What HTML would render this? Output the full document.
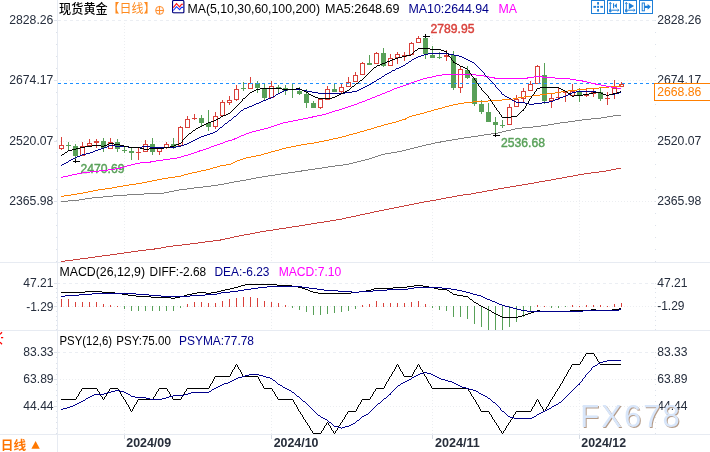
<!DOCTYPE html>
<html lang="zh"><head><meta charset="utf-8"><title>现货黄金 日线</title>
<style>html,body{margin:0;padding:0;background:#fff;overflow:hidden}#chart{position:relative;width:710px;height:452px;overflow:hidden}svg{display:block}.wm{position:absolute;left:580.3px;top:396.8px;margin:0;font:31px/40px "Liberation Sans",Arial,sans-serif;letter-spacing:2px;color:#d8e6fa;text-shadow:1px 1px 0.3px rgba(176,150,130,.95);white-space:nowrap;pointer-events:none}</style></head>
<body>
<div id="chart">
<svg width="710" height="452" viewBox="0 0 710 452" font-family="'Liberation Sans','Noto Sans CJK SC',sans-serif" font-size="12">
<rect width="710" height="452" fill="#fff"/>
<g shape-rendering="crispEdges" fill="none">
<path d="M58 20.5H655" stroke="#ebeef3" stroke-dasharray="3 3"/>
<path d="M57 80.5H655" stroke="#eceef1" stroke-dasharray="1 2"/>
<path d="M57 141.5H655" stroke="#eceef1" stroke-dasharray="1 2"/>
<path d="M57 201.5H655" stroke="#eceef1" stroke-dasharray="1 2"/>
<path d="M57 283.5H655" stroke="#ebeef3" stroke-dasharray="3 3"/>
<path d="M57 306.5H655" stroke="#eceef1" stroke-dasharray="1 2"/>
<path d="M57 352.5H655" stroke="#ebeef3" stroke-dasharray="3 3"/>
<path d="M57 379.5H655" stroke="#eceef1" stroke-dasharray="1 2"/>
<path d="M57 406.5H655" stroke="#eceef1" stroke-dasharray="1 2"/>
<path d="M124.5 20V262M124.5 283V330M124.5 352V434" stroke="#eceef1" stroke-dasharray="1 2"/>
<path d="M124.5 434V439" stroke="#d5dbe3"/>
<path d="M271.5 20V262M271.5 283V330M271.5 352V434" stroke="#eceef1" stroke-dasharray="1 2"/>
<path d="M271.5 434V439" stroke="#d5dbe3"/>
<path d="M432.5 20V262M432.5 283V330M432.5 352V434" stroke="#eceef1" stroke-dasharray="1 2"/>
<path d="M432.5 434V439" stroke="#d5dbe3"/>
<path d="M579.5 20V262M579.5 283V330M579.5 352V434" stroke="#eceef1" stroke-dasharray="1 2"/>
<path d="M579.5 434V439" stroke="#d5dbe3"/>
<path d="M0 262.5H710" stroke="#e7ebf2"/>
<path d="M0 330.5H710" stroke="#e7ebf2"/>
<path d="M0 434.5H710" stroke="#e7ebf2"/>
<path d="M57.5 0V452" stroke="#e7ebf2"/>
<path d="M56 20.5h1M655 20.5h1M56 32.5h1M655 32.5h1M56 44.5h1M655 44.5h1M56 56.5h1M655 56.5h1M56 68.5h1M655 68.5h1M56 80.5h1M655 80.5h1M56 92.5h1M655 92.5h1M56 104.5h1M655 104.5h1M56 116.5h1M655 116.5h1M56 128.5h1M655 128.5h1M56 140.5h1M655 140.5h1M56 152.5h1M655 152.5h1M56 164.5h1M655 164.5h1M56 177.5h1M655 177.5h1M56 189.5h1M655 189.5h1M56 201.5h1M655 201.5h1M56 213.5h1M655 213.5h1M56 225.5h1M655 225.5h1M56 237.5h1M655 237.5h1M56 249.5h1M655 249.5h1M56 261.5h1M655 261.5h1M56 283.5h1M655 283.5h1M56 288.5h1M655 288.5h1M56 292.5h1M655 292.5h1M56 297.5h1M655 297.5h1M56 302.5h1M655 302.5h1M56 306.5h1M655 306.5h1M56 311.5h1M655 311.5h1M56 316.5h1M655 316.5h1M56 320.5h1M655 320.5h1M56 325.5h1M655 325.5h1M56 329.5h1M655 329.5h1M56 352.5h1M655 352.5h1M56 357.5h1M655 357.5h1M56 363.5h1M655 363.5h1M56 368.5h1M655 368.5h1M56 374.5h1M655 374.5h1M56 379.5h1M655 379.5h1M56 384.5h1M655 384.5h1M56 390.5h1M655 390.5h1M56 395.5h1M655 395.5h1M56 401.5h1M655 401.5h1M56 406.5h1M655 406.5h1M56 411.5h1M655 411.5h1M56 417.5h1M655 417.5h1M56 422.5h1M655 422.5h1M56 428.5h1M655 428.5h1M56 433.5h1M655 433.5h1" stroke="#dde2ea"/>
<path d="M54 20.5h3M54 80.5h3M54 141.5h3M54 201.5h3M54 283.5h3M54 306.5h3M54 352.5h3M54 379.5h3M54 406.5h3" stroke="#dfe4ec"/>
</g>
<g shape-rendering="crispEdges">
<rect x="61" y="137" width="1" height="13" fill="#d9403a"/>
<rect x="59" y="145" width="5" height="4" fill="#d9403a"/><rect x="60" y="146" width="3" height="2" fill="#fff"/>
<rect x="68" y="142" width="1" height="9" fill="#58a058"/>
<rect x="66" y="145" width="5" height="1" fill="#58a058"/>
<rect x="75" y="144" width="1" height="19" fill="#58a058"/>
<rect x="73" y="146" width="5" height="10" fill="#58a058"/>
<rect x="82" y="142" width="1" height="14" fill="#d9403a"/>
<rect x="80" y="146" width="5" height="10" fill="#d9403a"/><rect x="81" y="147" width="3" height="8" fill="#fff"/>
<rect x="89" y="139" width="1" height="7" fill="#d9403a"/>
<rect x="87" y="143" width="5" height="3" fill="#d9403a"/><rect x="88" y="144" width="3" height="1" fill="#fff"/>
<rect x="96" y="139" width="1" height="9" fill="#d9403a"/>
<rect x="94" y="141" width="5" height="2" fill="#d9403a"/>
<rect x="103" y="138" width="1" height="14" fill="#58a058"/>
<rect x="101" y="141" width="5" height="7" fill="#58a058"/>
<rect x="110" y="138" width="1" height="11" fill="#d9403a"/>
<rect x="108" y="142" width="5" height="7" fill="#d9403a"/><rect x="109" y="143" width="3" height="5" fill="#fff"/>
<rect x="117" y="139" width="1" height="13" fill="#58a058"/>
<rect x="115" y="142" width="5" height="7" fill="#58a058"/>
<rect x="124" y="146" width="1" height="7" fill="#58a058"/>
<rect x="122" y="150" width="5" height="1" fill="#58a058"/>
<rect x="131" y="148" width="1" height="12" fill="#58a058"/>
<rect x="129" y="151" width="5" height="2" fill="#58a058"/>
<rect x="138" y="148" width="1" height="12" fill="#d9403a"/>
<rect x="136" y="152" width="5" height="1" fill="#d9403a"/>
<rect x="145" y="140" width="1" height="12" fill="#d9403a"/>
<rect x="143" y="144" width="5" height="8" fill="#d9403a"/><rect x="144" y="145" width="3" height="6" fill="#fff"/>
<rect x="152" y="138" width="1" height="17" fill="#58a058"/>
<rect x="150" y="144" width="5" height="8" fill="#58a058"/>
<rect x="159" y="148" width="1" height="7" fill="#d9403a"/>
<rect x="157" y="148" width="5" height="4" fill="#d9403a"/><rect x="158" y="149" width="3" height="2" fill="#fff"/>
<rect x="166" y="142" width="1" height="7" fill="#d9403a"/>
<rect x="164" y="144" width="5" height="4" fill="#d9403a"/><rect x="165" y="145" width="3" height="2" fill="#fff"/>
<rect x="173" y="138" width="1" height="11" fill="#58a058"/>
<rect x="171" y="144" width="5" height="4" fill="#58a058"/>
<rect x="180" y="126" width="1" height="20" fill="#d9403a"/>
<rect x="178" y="127" width="5" height="19" fill="#d9403a"/><rect x="179" y="128" width="3" height="17" fill="#fff"/>
<rect x="187" y="116" width="1" height="12" fill="#d9403a"/>
<rect x="185" y="119" width="5" height="9" fill="#d9403a"/><rect x="186" y="120" width="3" height="7" fill="#fff"/>
<rect x="194" y="114" width="1" height="6" fill="#d9403a"/>
<rect x="192" y="118" width="5" height="1" fill="#d9403a"/>
<rect x="201" y="115" width="1" height="12" fill="#58a058"/>
<rect x="199" y="118" width="5" height="5" fill="#58a058"/>
<rect x="208" y="110" width="1" height="21" fill="#58a058"/>
<rect x="206" y="123" width="5" height="4" fill="#58a058"/>
<rect x="215" y="112" width="1" height="17" fill="#d9403a"/>
<rect x="213" y="116" width="5" height="11" fill="#d9403a"/><rect x="214" y="117" width="3" height="9" fill="#fff"/>
<rect x="222" y="100" width="1" height="16" fill="#d9403a"/>
<rect x="220" y="102" width="5" height="14" fill="#d9403a"/><rect x="221" y="103" width="3" height="12" fill="#fff"/>
<rect x="229" y="96" width="1" height="9" fill="#d9403a"/>
<rect x="227" y="100" width="5" height="3" fill="#d9403a"/><rect x="228" y="101" width="3" height="1" fill="#fff"/>
<rect x="236" y="85" width="1" height="16" fill="#d9403a"/>
<rect x="234" y="89" width="5" height="11" fill="#d9403a"/><rect x="235" y="90" width="3" height="9" fill="#fff"/>
<rect x="243" y="82" width="1" height="9" fill="#58a058"/>
<rect x="241" y="88" width="5" height="1" fill="#58a058"/>
<rect x="250" y="77" width="1" height="12" fill="#d9403a"/>
<rect x="248" y="83" width="5" height="6" fill="#d9403a"/><rect x="249" y="84" width="3" height="4" fill="#fff"/>
<rect x="257" y="81" width="1" height="12" fill="#58a058"/>
<rect x="255" y="83" width="5" height="5" fill="#58a058"/>
<rect x="264" y="83" width="1" height="17" fill="#58a058"/>
<rect x="262" y="88" width="5" height="10" fill="#58a058"/>
<rect x="271" y="81" width="1" height="17" fill="#d9403a"/>
<rect x="269" y="86" width="5" height="12" fill="#d9403a"/><rect x="270" y="87" width="3" height="10" fill="#fff"/>
<rect x="278" y="85" width="1" height="8" fill="#58a058"/>
<rect x="276" y="87" width="5" height="2" fill="#58a058"/>
<rect x="285" y="85" width="1" height="10" fill="#58a058"/>
<rect x="283" y="88" width="5" height="3" fill="#58a058"/>
<rect x="292" y="83" width="1" height="15" fill="#58a058"/>
<rect x="290" y="89" width="5" height="1" fill="#58a058"/>
<rect x="299" y="87" width="1" height="8" fill="#58a058"/>
<rect x="297" y="91" width="5" height="3" fill="#58a058"/>
<rect x="306" y="89" width="1" height="19" fill="#58a058"/>
<rect x="304" y="94" width="5" height="9" fill="#58a058"/>
<rect x="313" y="101" width="1" height="7" fill="#58a058"/>
<rect x="311" y="103" width="5" height="5" fill="#58a058"/>
<rect x="320" y="98" width="1" height="11" fill="#d9403a"/>
<rect x="318" y="99" width="5" height="9" fill="#d9403a"/><rect x="319" y="100" width="3" height="7" fill="#fff"/>
<rect x="327" y="86" width="1" height="14" fill="#d9403a"/>
<rect x="325" y="89" width="5" height="11" fill="#d9403a"/><rect x="326" y="90" width="3" height="9" fill="#fff"/>
<rect x="334" y="83" width="1" height="9" fill="#58a058"/>
<rect x="332" y="89" width="5" height="3" fill="#58a058"/>
<rect x="341" y="84" width="1" height="9" fill="#d9403a"/>
<rect x="339" y="87" width="5" height="5" fill="#d9403a"/><rect x="340" y="88" width="3" height="3" fill="#fff"/>
<rect x="348" y="77" width="1" height="10" fill="#d9403a"/>
<rect x="346" y="82" width="5" height="5" fill="#d9403a"/><rect x="347" y="83" width="3" height="3" fill="#fff"/>
<rect x="355" y="72" width="1" height="10" fill="#d9403a"/>
<rect x="353" y="75" width="5" height="7" fill="#d9403a"/><rect x="354" y="76" width="3" height="5" fill="#fff"/>
<rect x="362" y="62" width="1" height="13" fill="#d9403a"/>
<rect x="360" y="63" width="5" height="12" fill="#d9403a"/><rect x="361" y="64" width="3" height="10" fill="#fff"/>
<rect x="369" y="55" width="1" height="10" fill="#58a058"/>
<rect x="367" y="63" width="5" height="2" fill="#58a058"/>
<rect x="376" y="52" width="1" height="12" fill="#d9403a"/>
<rect x="374" y="53" width="5" height="11" fill="#d9403a"/><rect x="375" y="54" width="3" height="9" fill="#fff"/>
<rect x="383" y="48" width="1" height="19" fill="#58a058"/>
<rect x="381" y="53" width="5" height="13" fill="#58a058"/>
<rect x="390" y="54" width="1" height="12" fill="#d9403a"/>
<rect x="388" y="58" width="5" height="8" fill="#d9403a"/><rect x="389" y="59" width="3" height="6" fill="#fff"/>
<rect x="397" y="52" width="1" height="12" fill="#d9403a"/>
<rect x="395" y="54" width="5" height="4" fill="#d9403a"/><rect x="396" y="55" width="3" height="2" fill="#fff"/>
<rect x="404" y="52" width="1" height="9" fill="#d9403a"/>
<rect x="402" y="55" width="5" height="2" fill="#d9403a"/>
<rect x="411" y="42" width="1" height="13" fill="#d9403a"/>
<rect x="409" y="43" width="5" height="12" fill="#d9403a"/><rect x="410" y="44" width="3" height="10" fill="#fff"/>
<rect x="418" y="36" width="1" height="7" fill="#d9403a"/>
<rect x="416" y="38" width="5" height="5" fill="#d9403a"/><rect x="417" y="39" width="3" height="3" fill="#fff"/>
<rect x="425" y="34" width="1" height="25" fill="#58a058"/>
<rect x="423" y="38" width="5" height="16" fill="#58a058"/>
<rect x="432" y="46" width="1" height="12" fill="#58a058"/>
<rect x="430" y="55" width="5" height="3" fill="#58a058"/>
<rect x="439" y="52" width="1" height="7" fill="#58a058"/>
<rect x="437" y="57" width="5" height="1" fill="#58a058"/>
<rect x="446" y="50" width="1" height="11" fill="#d9403a"/>
<rect x="444" y="55" width="5" height="2" fill="#d9403a"/>
<rect x="453" y="51" width="1" height="39" fill="#58a058"/>
<rect x="451" y="55" width="5" height="33" fill="#58a058"/>
<rect x="460" y="66" width="1" height="27" fill="#d9403a"/>
<rect x="458" y="69" width="5" height="19" fill="#d9403a"/><rect x="459" y="70" width="3" height="17" fill="#fff"/>
<rect x="467" y="66" width="1" height="13" fill="#58a058"/>
<rect x="465" y="70" width="5" height="8" fill="#58a058"/>
<rect x="474" y="78" width="1" height="28" fill="#58a058"/>
<rect x="472" y="78" width="5" height="26" fill="#58a058"/>
<rect x="481" y="100" width="1" height="14" fill="#58a058"/>
<rect x="479" y="104" width="5" height="8" fill="#58a058"/>
<rect x="488" y="103" width="1" height="19" fill="#58a058"/>
<rect x="486" y="112" width="5" height="10" fill="#58a058"/>
<rect x="495" y="117" width="1" height="19" fill="#58a058"/>
<rect x="493" y="122" width="5" height="3" fill="#58a058"/>
<rect x="502" y="120" width="1" height="8" fill="#58a058"/>
<rect x="500" y="125" width="5" height="1" fill="#58a058"/>
<rect x="509" y="104" width="1" height="21" fill="#d9403a"/>
<rect x="507" y="107" width="5" height="18" fill="#d9403a"/><rect x="508" y="108" width="3" height="16" fill="#fff"/>
<rect x="516" y="95" width="1" height="12" fill="#d9403a"/>
<rect x="514" y="99" width="5" height="8" fill="#d9403a"/><rect x="515" y="100" width="3" height="6" fill="#fff"/>
<rect x="523" y="88" width="1" height="14" fill="#d9403a"/>
<rect x="521" y="91" width="5" height="8" fill="#d9403a"/><rect x="522" y="92" width="3" height="6" fill="#fff"/>
<rect x="530" y="81" width="1" height="10" fill="#d9403a"/>
<rect x="528" y="84" width="5" height="7" fill="#d9403a"/><rect x="529" y="85" width="3" height="5" fill="#fff"/>
<rect x="537" y="65" width="1" height="19" fill="#d9403a"/>
<rect x="535" y="66" width="5" height="18" fill="#d9403a"/><rect x="536" y="67" width="3" height="16" fill="#fff"/>
<rect x="544" y="63" width="1" height="41" fill="#58a058"/>
<rect x="542" y="75" width="5" height="26" fill="#58a058"/>
<rect x="551" y="94" width="1" height="14" fill="#d9403a"/>
<rect x="549" y="98" width="5" height="3" fill="#d9403a"/><rect x="550" y="99" width="3" height="1" fill="#fff"/>
<rect x="558" y="87" width="1" height="13" fill="#d9403a"/>
<rect x="556" y="97" width="5" height="1" fill="#d9403a"/>
<rect x="565" y="91" width="1" height="11" fill="#d9403a"/>
<rect x="563" y="92" width="5" height="1" fill="#d9403a"/>
<rect x="572" y="84" width="1" height="12" fill="#d9403a"/>
<rect x="570" y="91" width="5" height="5" fill="#d9403a"/><rect x="571" y="92" width="3" height="3" fill="#fff"/>
<rect x="579" y="88" width="1" height="14" fill="#58a058"/>
<rect x="577" y="91" width="5" height="5" fill="#58a058"/>
<rect x="586" y="88" width="1" height="9" fill="#d9403a"/>
<rect x="584" y="94" width="5" height="2" fill="#d9403a"/>
<rect x="593" y="88" width="1" height="9" fill="#d9403a"/>
<rect x="591" y="92" width="5" height="2" fill="#d9403a"/>
<rect x="600" y="88" width="1" height="13" fill="#58a058"/>
<rect x="598" y="92" width="5" height="7" fill="#58a058"/>
<rect x="607" y="92" width="1" height="13" fill="#d9403a"/>
<rect x="605" y="98" width="5" height="1" fill="#d9403a"/>
<rect x="614" y="80" width="1" height="19" fill="#d9403a"/>
<rect x="612" y="88" width="5" height="6" fill="#d9403a"/><rect x="613" y="89" width="3" height="4" fill="#fff"/>
<rect x="621" y="82" width="1" height="5" fill="#d9403a"/>
<rect x="619" y="84" width="5" height="3" fill="#d9403a"/><rect x="620" y="85" width="3" height="1" fill="#fff"/>
</g>
<path d="M58 83.5H654" stroke="#1e90ff" stroke-dasharray="3 3" fill="none" shape-rendering="crispEdges"/>
<text x="430.5" y="33.0" fill="#d9403a" stroke="#d9403a" stroke-width="0.4" paint-order="stroke" textLength="44" lengthAdjust="spacingAndGlyphs">2789.95</text>
<text x="501" y="146.6" fill="#58a058" stroke="#58a058" stroke-width="0.4" paint-order="stroke" textLength="44" lengthAdjust="spacingAndGlyphs">2536.68</text>
<text x="80.5" y="172.8" fill="#58a058" stroke="#58a058" stroke-width="0.4" paint-order="stroke" textLength="44" lengthAdjust="spacingAndGlyphs">2470.69</text>
<path d="M616 168.5h5M611 169.5h5M606 170.5h5M599 171.5h7M591 172.5h8M584 173.5h7M578 174.5h6M573 175.5h5M567 176.5h6M562 177.5h5M556 178.5h6M551 179.5h5M545 180.5h6M539 181.5h6M534 182.5h5M528 183.5h6M522 184.5h6M516 185.5h6M510 186.5h6M504 187.5h6M498 188.5h6M493 189.5h5M487 190.5h6M482 191.5h5M476 192.5h6M471 193.5h5M463 194.5h8M457 195.5h6M452 196.5h5M446 197.5h6M441 198.5h5M436 199.5h5M430 200.5h6M424 201.5h6M419 202.5h5M414 203.5h5M409 204.5h5M404 205.5h5M399 206.5h5M394 207.5h5M389 208.5h5M384 209.5h5M379 210.5h5M374 211.5h5M370 212.5h4M365 213.5h5M360 214.5h5M356 215.5h4M351 216.5h5M346 217.5h5M342 218.5h4M336 219.5h6M330 220.5h6M324 221.5h6M317 222.5h7M311 223.5h6M305 224.5h6M299 225.5h6M292 226.5h7M286 227.5h6M279 228.5h7M273 229.5h6M266 230.5h7M260 231.5h6M255 232.5h5M250 233.5h5M244 234.5h6M239 235.5h5M234 236.5h5M230 237.5h4M225 238.5h5M220 239.5h5M213 240.5h8M205 241.5h8M198 242.5h7M190 243.5h8M182 244.5h8M173 245.5h9M166 246.5h7M161 247.5h5M154 248.5h7M146 249.5h9M138 250.5h8M131 251.5h7M124 252.5h7M117 253.5h7M110 254.5h7M102 255.5h8M95 256.5h7M88 257.5h7M80 258.5h8M73 259.5h7M65 260.5h8M61 261.5h4" fill="none" stroke="#c8403c" stroke-width="1" shape-rendering="crispEdges"/>
<path d="M613 115.5h8M607 116.5h6M601 117.5h6M591 118.5h10M582 119.5h9M575 120.5h7M568 121.5h7M560 122.5h8M554 123.5h6M548 124.5h6M541 125.5h7M533 126.5h8M522 127.5h11M515 128.5h7M511 129.5h4M506 130.5h5M502 131.5h4M498 132.5h4M491 133.5h7M484 134.5h7M478 135.5h6M471 136.5h7M464 137.5h7M458 138.5h6M452 139.5h6M446 140.5h6M440 141.5h6M435 142.5h6M431 143.5h4M426 144.5h5M422 145.5h4M418 146.5h4M414 147.5h4M410 148.5h4M406 149.5h4M402 150.5h4M397 151.5h5M391 152.5h6M385 153.5h6M381 154.5h4M378 155.5h3M375 156.5h3M372 157.5h3M369 158.5h3M365 159.5h4M361 160.5h4M357 161.5h4M353 162.5h4M349 163.5h4M343 164.5h6M335 165.5h8M328 166.5h7M322 167.5h6M315 168.5h7M308 169.5h7M301 170.5h7M295 171.5h7M288 172.5h7M281 173.5h7M275 174.5h6M268 175.5h7M262 176.5h6M256 177.5h6M251 178.5h5M246 179.5h5M240 180.5h6M234 181.5h6M229 182.5h5M224 183.5h5M218 184.5h6M211 185.5h7M203 186.5h8M194 187.5h9M187 188.5h7M179 189.5h8M174 190.5h5M169 191.5h5M164 192.5h5M144 193.5h20M127 194.5h17M113 195.5h14M103 196.5h10M92 197.5h11M85 198.5h7M79 199.5h6M68 200.5h11M61 201.5h7" fill="none" stroke="#808080" stroke-width="1" shape-rendering="crispEdges"/>
<path d="M620 85.5h1M609 86.5h11M599 87.5h10M587 88.5h12M577 89.5h10M568 90.5h9M561 91.5h7M555 92.5h6M547 93.5h8M540 94.5h7M532 95.5h8M524 96.5h8M518 97.5h6M513 98.5h5M502 99.5h11M488 100.5h14M473 101.5h15M464 102.5h9M458 103.5h6M453 104.5h5M449 105.5h4M445 106.5h4M442 107.5h3M438 108.5h4M434 109.5h4M431 110.5h3M427 111.5h4M424 112.5h3M420 113.5h4M416 114.5h4M412 115.5h4M409 116.5h3M407 117.5h2M405 118.5h2M402 119.5h4M399 120.5h3M396 121.5h3M392 122.5h4M388 123.5h4M384 124.5h4M381 125.5h3M377 126.5h4M374 127.5h3M371 128.5h3M367 129.5h4M364 130.5h3M360 131.5h4M357 132.5h3M353 133.5h4M349 134.5h4M346 135.5h3M342 136.5h4M338 137.5h4M333 138.5h5M329 139.5h4M324 140.5h5M319 141.5h5M314 142.5h5M307 143.5h7M301 144.5h6M296 145.5h5M291 146.5h5M286 147.5h5M282 148.5h4M279 149.5h3M275 150.5h4M271 151.5h4M268 152.5h3M264 153.5h4M261 154.5h3M256 155.5h5M251 156.5h5M246 157.5h5M243 158.5h3M240 159.5h3M237 160.5h3M235 161.5h2M233 162.5h2M231 163.5h2M226 164.5h5M220 165.5h6M217 166.5h3M213 167.5h4M210 168.5h3M206 169.5h4M201 170.5h5M197 171.5h4M192 172.5h5M188 173.5h4M184 174.5h4M181 175.5h3M175 176.5h6M168 177.5h7M162 178.5h6M157 179.5h5M152 180.5h5M147 181.5h5M142 182.5h5M136 183.5h6M129 184.5h7M123 185.5h6M117 186.5h6M112 187.5h5M105 188.5h7M98 189.5h7M93 190.5h5M88 191.5h5M83 192.5h5M77 193.5h6M71 194.5h6M64 195.5h7M61 196.5h3" fill="none" stroke="#ff8000" stroke-width="1" shape-rendering="crispEdges"/>
<path d="M442 74.5h34M436 75.5h6M476 75.5h8M432 76.5h4M484 76.5h5M534 76.5h9M427 77.5h5M489 77.5h6M527 77.5h7M542 77.5h13M423 78.5h4M494 78.5h34M555 78.5h15M420 79.5h3M570 79.5h6M417 80.5h3M576 80.5h7M414 81.5h3M582 81.5h5M411 82.5h3M587 82.5h4M409 83.5h2M591 83.5h5M406 84.5h3M595 84.5h6M403 85.5h3M601 85.5h5M400 86.5h3M606 86.5h5M397 87.5h3M611 87.5h6M394 88.5h3M617 88.5h4M392 89.5h2M390 90.5h2M387 91.5h3M385 92.5h2M382 93.5h3M380 94.5h2M377 95.5h3M375 96.5h2M372 97.5h3M370 98.5h2M367 99.5h3M365 100.5h2M362 101.5h3M359 102.5h3M357 103.5h2M354 104.5h3M351 105.5h3M348 106.5h3M345 107.5h3M342 108.5h3M339 109.5h3M335 110.5h4M332 111.5h3M329 112.5h3M326 113.5h3M322 114.5h4M317 115.5h5M312 116.5h5M308 117.5h5M303 118.5h5M298 119.5h5M293 120.5h5M288 121.5h5M283 122.5h5M280 123.5h3M277 124.5h3M274 125.5h3M271 126.5h3M268 127.5h3M264 128.5h4M260 129.5h4M256 130.5h4M252 131.5h4M249 132.5h3M246 133.5h3M244 134.5h2M241 135.5h3M239 136.5h2M237 137.5h2M234 138.5h3M232 139.5h3M228 140.5h4M225 141.5h3M223 142.5h2M220 143.5h3M217 144.5h3M214 145.5h3M211 146.5h3M209 147.5h2M206 148.5h3M203 149.5h3M199 150.5h4M197 151.5h3M194 152.5h3M191 153.5h3M188 154.5h3M184 155.5h4M181 156.5h3M177 157.5h4M170 158.5h7M163 159.5h7M156 160.5h7M150 161.5h6M140 162.5h11M135 163.5h5M131 164.5h4M127 165.5h4M124 166.5h3M120 167.5h4M115 168.5h6M108 169.5h7M99 170.5h9M90 171.5h9M82 172.5h8M77 173.5h5M72 174.5h5M68 175.5h4M63 176.5h5M61 177.5h2" fill="none" stroke="#ff00ff" stroke-width="1" shape-rendering="crispEdges"/>
<path d="M428 53.5h21M424 54.5h4M449 54.5h5M421 55.5h3M454 55.5h5M418 56.5h3M459 56.5h3M416 57.5h2M462 57.5h2M414 58.5h2M464 58.5h2M412 59.5h2M466 59.5h2M411 60.5h1M468 60.5h2M409 61.5h2M470 61.5h2M408 62.5h1M472 62.5h2M406 63.5h2M474 63.5h1M405 64.5h1M475 64.5h1M403 65.5h2M476 65.5h1M401 66.5h2M477 66.5h1M399 67.5h2M478 67.5h1M396 68.5h3M479 68.5h1M395 69.5h1M480 69.5h1M392 70.5h3M481 70.5h1M391 71.5h1M482 71.5h1M389 72.5h2M483 72.5h1M387 73.5h2M484 73.5h1M385 74.5h2M484 74.5h1M384 75.5h1M485 75.5h1M382 76.5h2M486 76.5h1M381 77.5h1M487 77.5h1M379 78.5h2M488 78.5h1M377 79.5h2M489 79.5h1M376 80.5h1M490 80.5h1M374 81.5h2M491 81.5h1M372 82.5h2M492 82.5h1M371 83.5h1M493 83.5h1M369 84.5h2M494 84.5h1M367 85.5h2M495 85.5h1M365 86.5h2M495 86.5h1M363 87.5h2M496 87.5h1M361 88.5h2M497 88.5h1M287 89.5h15M359 89.5h2M498 89.5h1M284 90.5h3M302 90.5h5M357 90.5h2M499 90.5h1M282 91.5h2M307 91.5h5M352 91.5h5M500 91.5h1M576 91.5h20M280 92.5h2M312 92.5h6M345 92.5h7M501 92.5h1M572 92.5h4M596 92.5h5M619 92.5h2M278 93.5h2M318 93.5h27M501 93.5h1M570 93.5h2M601 93.5h2M615 93.5h4M276 94.5h2M502 94.5h2M568 94.5h2M603 94.5h3M609 94.5h6M275 95.5h1M504 95.5h1M566 95.5h2M606 95.5h3M273 96.5h2M505 96.5h2M563 96.5h3M271 97.5h2M507 97.5h2M560 97.5h3M268 98.5h3M509 98.5h2M558 98.5h2M266 99.5h2M511 99.5h1M555 99.5h3M263 100.5h3M512 100.5h2M553 100.5h2M261 101.5h2M514 101.5h2M549 101.5h4M259 102.5h2M516 102.5h9M542 102.5h7M256 103.5h3M525 103.5h4M534 103.5h8M254 104.5h2M529 104.5h5M252 105.5h2M249 106.5h3M247 107.5h2M244 108.5h3M243 109.5h1M241 110.5h2M240 111.5h1M239 112.5h1M238 113.5h1M237 114.5h1M236 115.5h1M234 116.5h2M233 117.5h1M232 118.5h1M231 119.5h1M229 120.5h2M228 121.5h1M227 122.5h1M225 123.5h2M224 124.5h1M223 125.5h1M222 126.5h1M220 127.5h2M219 128.5h1M218 129.5h1M217 130.5h1M215 131.5h2M213 132.5h2M210 133.5h3M207 134.5h3M204 135.5h3M201 136.5h3M199 137.5h2M197 138.5h2M195 139.5h2M193 140.5h2M191 141.5h2M189 142.5h2M187 143.5h2M184 144.5h3M109 145.5h6M181 145.5h3M107 146.5h2M115 146.5h13M142 146.5h8M176 146.5h5M104 147.5h3M128 147.5h14M150 147.5h26M101 148.5h3M98 149.5h3M95 150.5h3M93 151.5h2M90 152.5h3M86 153.5h4M82 154.5h4M80 155.5h2M77 156.5h3M75 157.5h2M73 158.5h2M71 159.5h2M69 160.5h2M68 161.5h1M66 162.5h2M64 163.5h2M62 164.5h2M61 165.5h1" fill="none" stroke="#00008b" stroke-width="1" shape-rendering="crispEdges"/>
<path d="M418 48.5h12M417 49.5h1M430 49.5h11M415 50.5h2M441 50.5h3M414 51.5h1M444 51.5h3M413 52.5h1M446 52.5h1M412 53.5h1M447 53.5h1M411 54.5h1M448 54.5h1M406 55.5h5M448 55.5h1M402 56.5h4M449 56.5h1M398 57.5h4M450 57.5h1M395 58.5h3M451 58.5h1M392 59.5h3M451 59.5h1M390 60.5h2M452 60.5h1M387 61.5h3M453 61.5h1M385 62.5h2M453 62.5h2M382 63.5h3M455 63.5h2M380 64.5h2M457 64.5h2M377 65.5h3M459 65.5h1M376 66.5h1M460 66.5h3M374 67.5h2M463 67.5h2M373 68.5h1M465 68.5h2M372 69.5h1M467 69.5h1M371 70.5h1M468 70.5h1M370 71.5h1M469 71.5h1M369 72.5h1M469 72.5h1M368 73.5h1M470 73.5h1M367 74.5h1M471 74.5h1M366 75.5h1M471 75.5h1M365 76.5h1M472 76.5h1M364 77.5h1M473 77.5h1M363 78.5h1M474 78.5h1M362 79.5h1M474 79.5h1M360 80.5h2M475 80.5h1M359 81.5h1M476 81.5h1M358 82.5h1M476 82.5h1M356 83.5h2M477 83.5h1M355 84.5h1M478 84.5h1M354 85.5h1M478 85.5h1M352 86.5h2M479 86.5h1M351 87.5h1M480 87.5h1M540 87.5h19M260 88.5h22M296 88.5h4M350 88.5h1M481 88.5h1M537 88.5h3M559 88.5h2M256 89.5h4M282 89.5h14M300 89.5h2M349 89.5h1M481 89.5h1M536 89.5h1M561 89.5h2M254 90.5h2M302 90.5h2M347 90.5h2M482 90.5h1M536 90.5h1M563 90.5h2M252 91.5h2M304 91.5h2M345 91.5h2M483 91.5h1M535 91.5h1M565 91.5h2M620 91.5h1M250 92.5h2M306 92.5h2M343 92.5h2M484 92.5h1M534 92.5h1M567 92.5h1M593 92.5h8M617 92.5h3M249 93.5h1M308 93.5h1M341 93.5h2M485 93.5h1M534 93.5h1M568 93.5h2M589 93.5h4M601 93.5h2M613 93.5h4M248 94.5h1M309 94.5h2M339 94.5h2M486 94.5h1M533 94.5h1M570 94.5h1M583 94.5h6M603 94.5h3M609 94.5h4M247 95.5h1M311 95.5h2M337 95.5h2M487 95.5h1M532 95.5h1M571 95.5h1M574 95.5h9M606 95.5h3M246 96.5h1M313 96.5h2M335 96.5h2M488 96.5h1M531 96.5h1M572 96.5h2M245 97.5h1M315 97.5h3M332 97.5h3M488 97.5h1M531 97.5h1M243 98.5h2M318 98.5h14M489 98.5h1M530 98.5h1M242 99.5h1M490 99.5h1M529 99.5h1M242 100.5h1M490 100.5h1M529 100.5h1M241 101.5h1M491 101.5h1M528 101.5h1M240 102.5h1M492 102.5h1M528 102.5h1M239 103.5h1M492 103.5h1M527 103.5h1M238 104.5h1M493 104.5h1M526 104.5h1M237 105.5h1M494 105.5h1M526 105.5h1M236 106.5h1M494 106.5h1M525 106.5h1M235 107.5h1M495 107.5h1M525 107.5h1M234 108.5h1M496 108.5h1M524 108.5h1M233 109.5h1M496 109.5h1M523 109.5h1M232 110.5h1M497 110.5h1M522 110.5h2M231 111.5h1M498 111.5h1M521 111.5h1M230 112.5h1M499 112.5h1M520 112.5h1M228 113.5h2M499 113.5h1M519 113.5h1M226 114.5h2M500 114.5h1M518 114.5h1M223 115.5h3M501 115.5h1M517 115.5h1M221 116.5h2M501 116.5h1M511 116.5h6M220 117.5h1M502 117.5h9M218 118.5h2M216 119.5h2M214 120.5h2M211 121.5h3M208 122.5h3M206 123.5h2M204 124.5h2M202 125.5h2M200 126.5h2M198 127.5h2M196 128.5h2M195 129.5h1M193 130.5h2M192 131.5h1M191 132.5h1M189 133.5h2M188 134.5h1M187 135.5h1M186 136.5h1M185 137.5h1M184 138.5h1M183 139.5h1M182 140.5h1M182 141.5h1M181 142.5h1M109 143.5h5M179 143.5h2M107 144.5h2M114 144.5h6M176 144.5h3M92 145.5h9M104 145.5h3M120 145.5h4M174 145.5h2M85 146.5h7M101 146.5h3M124 146.5h5M170 146.5h4M80 147.5h5M129 147.5h11M164 147.5h6M76 148.5h4M140 148.5h4M149 148.5h15M72 149.5h4M144 149.5h5M68 150.5h4M67 151.5h1M65 152.5h2M64 153.5h1M62 154.5h2M61 155.5h1" fill="none" stroke="#000" stroke-width="1" shape-rendering="crispEdges"/>
<g shape-rendering="crispEdges" fill="#000">
<rect x="423" y="36" width="7" height="1"/><rect x="425" y="34" width="1" height="4"/>
<rect x="493" y="135" width="7" height="1"/><rect x="495" y="133" width="1" height="4"/>
<rect x="73" y="161" width="7" height="1"/><rect x="75" y="159" width="1" height="4"/>
</g>
<g shape-rendering="crispEdges">
<rect x="61" y="299" width="1" height="8" fill="#d9403a"/>
<rect x="68" y="299" width="1" height="8" fill="#d9403a"/>
<rect x="75" y="302" width="1" height="5" fill="#d9403a"/>
<rect x="82" y="302" width="1" height="5" fill="#d9403a"/>
<rect x="89" y="302" width="1" height="5" fill="#d9403a"/>
<rect x="96" y="302" width="1" height="5" fill="#d9403a"/>
<rect x="103" y="304" width="1" height="3" fill="#d9403a"/>
<rect x="110" y="305" width="1" height="2" fill="#d9403a"/>
<rect x="117" y="306" width="1" height="1" fill="#d9403a"/>
<rect x="124" y="306" width="1" height="3" fill="#58a058"/>
<rect x="131" y="306" width="1" height="5" fill="#58a058"/>
<rect x="138" y="306" width="1" height="5" fill="#58a058"/>
<rect x="145" y="306" width="1" height="5" fill="#58a058"/>
<rect x="152" y="306" width="1" height="5" fill="#58a058"/>
<rect x="159" y="306" width="1" height="5" fill="#58a058"/>
<rect x="166" y="306" width="1" height="5" fill="#58a058"/>
<rect x="173" y="306" width="1" height="5" fill="#58a058"/>
<rect x="180" y="306" width="1" height="2" fill="#58a058"/>
<rect x="187" y="304" width="1" height="3" fill="#d9403a"/>
<rect x="194" y="302" width="1" height="5" fill="#d9403a"/>
<rect x="201" y="302" width="1" height="5" fill="#d9403a"/>
<rect x="208" y="303" width="1" height="4" fill="#d9403a"/>
<rect x="215" y="303" width="1" height="4" fill="#d9403a"/>
<rect x="222" y="301" width="1" height="6" fill="#d9403a"/>
<rect x="229" y="299" width="1" height="8" fill="#d9403a"/>
<rect x="236" y="298" width="1" height="9" fill="#d9403a"/>
<rect x="243" y="297" width="1" height="10" fill="#d9403a"/>
<rect x="250" y="297" width="1" height="10" fill="#d9403a"/>
<rect x="257" y="298" width="1" height="9" fill="#d9403a"/>
<rect x="264" y="301" width="1" height="6" fill="#d9403a"/>
<rect x="271" y="302" width="1" height="5" fill="#d9403a"/>
<rect x="278" y="303" width="1" height="4" fill="#d9403a"/>
<rect x="285" y="305" width="1" height="2" fill="#d9403a"/>
<rect x="292" y="306" width="1" height="2" fill="#58a058"/>
<rect x="299" y="306" width="1" height="4" fill="#58a058"/>
<rect x="306" y="306" width="1" height="6" fill="#58a058"/>
<rect x="313" y="306" width="1" height="9" fill="#58a058"/>
<rect x="320" y="306" width="1" height="9" fill="#58a058"/>
<rect x="327" y="306" width="1" height="8" fill="#58a058"/>
<rect x="334" y="306" width="1" height="7" fill="#58a058"/>
<rect x="341" y="306" width="1" height="6" fill="#58a058"/>
<rect x="348" y="306" width="1" height="5" fill="#58a058"/>
<rect x="355" y="306" width="1" height="3" fill="#58a058"/>
<rect x="362" y="305" width="1" height="2" fill="#d9403a"/>
<rect x="369" y="304" width="1" height="3" fill="#d9403a"/>
<rect x="376" y="301" width="1" height="6" fill="#d9403a"/>
<rect x="383" y="303" width="1" height="4" fill="#d9403a"/>
<rect x="390" y="303" width="1" height="4" fill="#d9403a"/>
<rect x="397" y="303" width="1" height="4" fill="#d9403a"/>
<rect x="404" y="303" width="1" height="4" fill="#d9403a"/>
<rect x="411" y="302" width="1" height="5" fill="#d9403a"/>
<rect x="418" y="301" width="1" height="6" fill="#d9403a"/>
<rect x="425" y="304" width="1" height="3" fill="#d9403a"/>
<rect x="432" y="306" width="1" height="2" fill="#58a058"/>
<rect x="439" y="306" width="1" height="4" fill="#58a058"/>
<rect x="446" y="306" width="1" height="5" fill="#58a058"/>
<rect x="453" y="306" width="1" height="11" fill="#58a058"/>
<rect x="460" y="306" width="1" height="11" fill="#58a058"/>
<rect x="467" y="306" width="1" height="13" fill="#58a058"/>
<rect x="474" y="306" width="1" height="18" fill="#58a058"/>
<rect x="481" y="306" width="1" height="21" fill="#58a058"/>
<rect x="488" y="306" width="1" height="24" fill="#58a058"/>
<rect x="495" y="306" width="1" height="24" fill="#58a058"/>
<rect x="502" y="306" width="1" height="24" fill="#58a058"/>
<rect x="509" y="306" width="1" height="21" fill="#58a058"/>
<rect x="516" y="306" width="1" height="16" fill="#58a058"/>
<rect x="523" y="306" width="1" height="11" fill="#58a058"/>
<rect x="530" y="306" width="1" height="6" fill="#58a058"/>
<rect x="537" y="305" width="1" height="2" fill="#d9403a"/>
<rect x="544" y="306" width="1" height="1" fill="#d9403a"/>
<rect x="551" y="306" width="1" height="2" fill="#58a058"/>
<rect x="558" y="306" width="1" height="2" fill="#58a058"/>
<rect x="565" y="306" width="1" height="1" fill="#58a058"/>
<rect x="572" y="305" width="1" height="2" fill="#d9403a"/>
<rect x="579" y="306" width="1" height="1" fill="#d9403a"/>
<rect x="586" y="305" width="1" height="2" fill="#d9403a"/>
<rect x="593" y="305" width="1" height="2" fill="#d9403a"/>
<rect x="600" y="305" width="1" height="2" fill="#d9403a"/>
<rect x="607" y="306" width="1" height="1" fill="#d9403a"/>
<rect x="614" y="304" width="1" height="3" fill="#d9403a"/>
<rect x="621" y="303" width="1" height="4" fill="#d9403a"/>
</g>
<path d="M245 284.5h32M241 285.5h4M277 285.5h15M414 285.5h9M238 286.5h3M292 286.5h6M407 286.5h7M423 286.5h6M234 287.5h4M298 287.5h4M393 287.5h14M429 287.5h5M230 288.5h4M302 288.5h3M374 288.5h19M434 288.5h4M225 289.5h5M305 289.5h3M371 289.5h3M438 289.5h9M221 290.5h4M308 290.5h2M366 290.5h5M447 290.5h2M85 291.5h17M217 291.5h4M310 291.5h3M359 291.5h7M449 291.5h1M61 292.5h24M102 292.5h13M197 292.5h9M211 292.5h6M313 292.5h5M351 292.5h8M450 292.5h2M115 293.5h7M192 293.5h5M206 293.5h5M318 293.5h33M452 293.5h1M122 294.5h6M187 294.5h5M453 294.5h4M128 295.5h8M184 295.5h3M457 295.5h6M136 296.5h15M180 296.5h4M463 296.5h5M151 297.5h20M175 297.5h5M468 297.5h1M171 298.5h4M469 298.5h1M470 299.5h2M472 300.5h1M473 301.5h1M474 302.5h2M476 303.5h2M478 304.5h1M479 305.5h2M481 306.5h2M483 307.5h2M485 308.5h2M619 308.5h2M487 309.5h2M591 309.5h5M612 309.5h7M489 310.5h2M537 310.5h3M570 310.5h21M596 310.5h16M491 311.5h1M534 311.5h3M540 311.5h30M492 312.5h2M531 312.5h3M494 313.5h2M528 313.5h3M496 314.5h2M525 314.5h3M498 315.5h2M522 315.5h3M500 316.5h2M518 316.5h4M502 317.5h16" fill="none" stroke="#000" stroke-width="1" shape-rendering="crispEdges"/>
<path d="M267 286.5h35M258 287.5h9M302 287.5h7M414 287.5h28M251 288.5h7M309 288.5h8M408 288.5h6M442 288.5h9M244 289.5h7M317 289.5h7M387 289.5h21M451 289.5h6M238 290.5h6M324 290.5h14M373 290.5h14M457 290.5h5M230 291.5h8M338 291.5h14M359 291.5h14M462 291.5h4M221 292.5h9M352 292.5h7M466 292.5h4M92 293.5h44M217 293.5h4M470 293.5h3M79 294.5h13M136 294.5h13M205 294.5h12M473 294.5h4M65 295.5h14M149 295.5h12M190 295.5h15M477 295.5h4M61 296.5h4M161 296.5h29M481 296.5h2M483 297.5h2M485 298.5h2M487 299.5h3M490 300.5h2M492 301.5h3M495 302.5h2M497 303.5h2M499 304.5h3M502 305.5h3M505 306.5h4M509 307.5h4M513 308.5h4M517 309.5h4M619 309.5h2M521 310.5h6M583 310.5h36M527 311.5h56" fill="none" stroke="#00008b" stroke-width="1" shape-rendering="crispEdges"/>
<path d="M586 353.5h8M585 354.5h1M594 354.5h1M585 355.5h1M594 355.5h1M584 356.5h1M595 356.5h1M583 357.5h1M596 357.5h1M583 358.5h1M596 358.5h1M582 359.5h1M597 359.5h1M582 360.5h1M597 360.5h1M581 361.5h1M598 361.5h1M580 362.5h1M599 362.5h1M580 363.5h1M599 363.5h1M236 364.5h1M397 364.5h1M418 364.5h1M572 364.5h8M600 364.5h21M235 365.5h1M237 365.5h1M396 365.5h1M398 365.5h1M417 365.5h1M419 365.5h1M571 365.5h1M235 366.5h1M237 366.5h1M396 366.5h1M398 366.5h1M417 366.5h1M419 366.5h1M571 366.5h1M234 367.5h1M238 367.5h1M395 367.5h1M399 367.5h1M416 367.5h1M420 367.5h1M570 367.5h1M234 368.5h1M238 368.5h1M395 368.5h1M399 368.5h1M416 368.5h1M420 368.5h1M570 368.5h1M233 369.5h1M239 369.5h1M394 369.5h1M400 369.5h1M415 369.5h1M421 369.5h1M569 369.5h1M232 370.5h1M240 370.5h1M394 370.5h1M400 370.5h1M414 370.5h1M422 370.5h1M568 370.5h1M232 371.5h1M240 371.5h1M393 371.5h1M401 371.5h1M414 371.5h1M422 371.5h1M568 371.5h1M231 372.5h1M241 372.5h1M392 372.5h1M402 372.5h1M413 372.5h1M423 372.5h1M567 372.5h1M231 373.5h1M241 373.5h1M392 373.5h1M402 373.5h1M413 373.5h1M423 373.5h1M567 373.5h1M230 374.5h1M242 374.5h1M391 374.5h1M403 374.5h1M412 374.5h1M424 374.5h1M566 374.5h1M230 375.5h1M242 375.5h1M391 375.5h1M403 375.5h1M412 375.5h1M424 375.5h1M566 375.5h1M215 376.5h15M243 376.5h15M390 376.5h1M404 376.5h8M425 376.5h1M565 376.5h1M214 377.5h1M258 377.5h1M389 377.5h1M426 377.5h1M564 377.5h1M214 378.5h1M258 378.5h1M389 378.5h1M426 378.5h1M564 378.5h1M213 379.5h1M259 379.5h1M388 379.5h1M427 379.5h1M563 379.5h1M213 380.5h1M259 380.5h1M388 380.5h1M427 380.5h1M563 380.5h1M212 381.5h1M260 381.5h1M387 381.5h1M428 381.5h1M562 381.5h1M212 382.5h1M260 382.5h1M386 382.5h1M428 382.5h1M562 382.5h1M211 383.5h1M261 383.5h1M386 383.5h1M429 383.5h1M561 383.5h1M210 384.5h1M262 384.5h1M385 384.5h1M430 384.5h1M560 384.5h1M210 385.5h1M262 385.5h1M385 385.5h1M430 385.5h1M560 385.5h1M209 386.5h1M263 386.5h1M384 386.5h1M431 386.5h1M559 386.5h1M209 387.5h1M263 387.5h1M384 387.5h1M431 387.5h1M559 387.5h1M82 388.5h15M110 388.5h8M159 388.5h8M187 388.5h22M264 388.5h8M376 388.5h8M432 388.5h36M558 388.5h1M81 389.5h1M97 389.5h1M109 389.5h1M118 389.5h1M158 389.5h1M167 389.5h1M186 389.5h1M272 389.5h1M375 389.5h1M468 389.5h1M557 389.5h1M81 390.5h1M97 390.5h1M109 390.5h1M118 390.5h1M158 390.5h1M167 390.5h1M186 390.5h1M272 390.5h1M375 390.5h1M468 390.5h1M557 390.5h1M80 391.5h1M98 391.5h1M108 391.5h1M119 391.5h1M157 391.5h1M168 391.5h1M185 391.5h1M273 391.5h1M374 391.5h1M469 391.5h1M556 391.5h1M79 392.5h1M99 392.5h1M107 392.5h1M120 392.5h1M156 392.5h1M169 392.5h1M184 392.5h1M274 392.5h1M373 392.5h1M470 392.5h1M555 392.5h1M79 393.5h1M99 393.5h1M107 393.5h1M120 393.5h1M156 393.5h1M169 393.5h1M184 393.5h1M274 393.5h1M373 393.5h1M470 393.5h1M555 393.5h1M78 394.5h1M100 394.5h1M106 394.5h1M121 394.5h1M155 394.5h1M170 394.5h1M183 394.5h1M275 394.5h1M372 394.5h1M471 394.5h1M554 394.5h1M78 395.5h1M100 395.5h1M106 395.5h1M121 395.5h1M155 395.5h1M170 395.5h1M183 395.5h1M275 395.5h1M372 395.5h1M471 395.5h1M554 395.5h1M77 396.5h1M101 396.5h1M105 396.5h1M122 396.5h1M154 396.5h1M171 396.5h1M182 396.5h1M276 396.5h1M371 396.5h1M472 396.5h1M553 396.5h1M76 397.5h1M102 397.5h1M104 397.5h1M123 397.5h1M153 397.5h1M172 397.5h1M181 397.5h1M277 397.5h1M370 397.5h1M473 397.5h1M552 397.5h1M76 398.5h1M102 398.5h1M104 398.5h1M123 398.5h1M153 398.5h1M172 398.5h1M181 398.5h1M277 398.5h1M370 398.5h1M473 398.5h1M552 398.5h1M61 399.5h15M103 399.5h1M124 399.5h1M138 399.5h15M173 399.5h8M278 399.5h15M362 399.5h8M474 399.5h1M537 399.5h1M551 399.5h1M125 400.5h1M137 400.5h1M293 400.5h1M361 400.5h1M475 400.5h1M536 400.5h1M538 400.5h1M550 400.5h1M125 401.5h1M137 401.5h1M293 401.5h1M361 401.5h1M475 401.5h1M536 401.5h1M538 401.5h1M550 401.5h1M126 402.5h1M136 402.5h1M294 402.5h1M360 402.5h1M476 402.5h1M535 402.5h1M539 402.5h1M549 402.5h1M126 403.5h1M136 403.5h1M294 403.5h1M360 403.5h1M476 403.5h1M535 403.5h1M539 403.5h1M549 403.5h1M127 404.5h1M135 404.5h1M295 404.5h1M359 404.5h1M477 404.5h1M534 404.5h1M540 404.5h1M548 404.5h1M128 405.5h1M134 405.5h1M296 405.5h1M358 405.5h1M478 405.5h1M534 405.5h1M540 405.5h1M548 405.5h1M128 406.5h1M134 406.5h1M296 406.5h1M358 406.5h1M478 406.5h1M533 406.5h1M541 406.5h1M547 406.5h1M129 407.5h1M133 407.5h1M297 407.5h1M357 407.5h1M479 407.5h1M532 407.5h1M542 407.5h1M546 407.5h1M129 408.5h1M133 408.5h1M297 408.5h1M357 408.5h1M479 408.5h1M532 408.5h1M542 408.5h1M546 408.5h1M130 409.5h1M132 409.5h1M298 409.5h1M356 409.5h1M480 409.5h1M531 409.5h1M543 409.5h1M545 409.5h1M130 410.5h1M132 410.5h1M298 410.5h1M356 410.5h1M480 410.5h1M531 410.5h1M543 410.5h1M545 410.5h1M131 411.5h1M299 411.5h1M348 411.5h8M481 411.5h8M516 411.5h15M544 411.5h1M300 412.5h1M347 412.5h1M489 412.5h1M515 412.5h1M300 413.5h1M347 413.5h1M489 413.5h1M515 413.5h1M301 414.5h1M346 414.5h1M490 414.5h1M514 414.5h1M302 415.5h1M345 415.5h1M491 415.5h1M513 415.5h1M302 416.5h1M345 416.5h1M491 416.5h1M513 416.5h1M303 417.5h1M344 417.5h1M492 417.5h1M512 417.5h1M303 418.5h1M344 418.5h1M492 418.5h1M512 418.5h1M304 419.5h1M343 419.5h1M493 419.5h1M511 419.5h1M305 420.5h1M342 420.5h1M494 420.5h1M510 420.5h1M305 421.5h1M342 421.5h1M494 421.5h1M510 421.5h1M306 422.5h1M327 422.5h1M341 422.5h1M495 422.5h1M509 422.5h1M307 423.5h1M326 423.5h1M328 423.5h1M340 423.5h1M496 423.5h1M508 423.5h1M307 424.5h1M326 424.5h1M328 424.5h1M340 424.5h1M496 424.5h1M508 424.5h1M308 425.5h1M325 425.5h1M329 425.5h1M339 425.5h1M497 425.5h1M507 425.5h1M309 426.5h1M324 426.5h1M330 426.5h1M338 426.5h1M498 426.5h1M506 426.5h1M309 427.5h1M324 427.5h1M330 427.5h1M338 427.5h1M498 427.5h1M506 427.5h1M310 428.5h1M323 428.5h1M331 428.5h1M337 428.5h1M499 428.5h1M505 428.5h1M310 429.5h1M323 429.5h1M331 429.5h1M337 429.5h1M499 429.5h1M505 429.5h1M311 430.5h1M322 430.5h1M332 430.5h1M336 430.5h1M500 430.5h1M504 430.5h1M312 431.5h1M321 431.5h1M333 431.5h1M335 431.5h1M501 431.5h1M503 431.5h1M312 432.5h1M321 432.5h1M333 432.5h1M335 432.5h1M501 432.5h1M503 432.5h1M313 433.5h8M334 433.5h1M502 433.5h1" fill="none" stroke="#000" stroke-width="1" shape-rendering="crispEdges"/>
<path d="M607 360.5h14M603 361.5h4M600 362.5h3M598 363.5h2M597 364.5h1M595 365.5h2M593 366.5h2M592 367.5h1M591 368.5h1M591 369.5h1M590 370.5h1M589 371.5h1M424 372.5h3M588 372.5h1M420 373.5h4M427 373.5h4M587 373.5h1M249 374.5h10M418 374.5h2M431 374.5h2M586 374.5h1M245 375.5h4M259 375.5h4M416 375.5h2M433 375.5h2M585 375.5h1M242 376.5h3M263 376.5h3M414 376.5h2M435 376.5h2M585 376.5h1M238 377.5h4M266 377.5h4M412 377.5h2M437 377.5h2M584 377.5h1M236 378.5h2M270 378.5h2M411 378.5h1M439 378.5h2M583 378.5h1M234 379.5h2M272 379.5h1M409 379.5h2M441 379.5h4M582 379.5h1M232 380.5h2M273 380.5h2M407 380.5h2M445 380.5h3M582 380.5h1M230 381.5h2M275 381.5h1M405 381.5h2M448 381.5h4M581 381.5h1M228 382.5h2M276 382.5h1M403 382.5h2M452 382.5h2M580 382.5h1M224 383.5h4M277 383.5h1M401 383.5h2M454 383.5h2M579 383.5h1M222 384.5h2M278 384.5h2M400 384.5h1M456 384.5h2M578 384.5h2M220 385.5h2M280 385.5h2M398 385.5h2M458 385.5h2M577 385.5h1M218 386.5h2M282 386.5h1M397 386.5h1M460 386.5h2M576 386.5h1M216 387.5h2M283 387.5h2M396 387.5h1M462 387.5h4M575 387.5h1M214 388.5h2M285 388.5h2M395 388.5h1M466 388.5h3M574 388.5h1M212 389.5h2M287 389.5h2M394 389.5h1M469 389.5h4M573 389.5h1M115 390.5h5M211 390.5h1M289 390.5h2M393 390.5h1M473 390.5h3M572 390.5h1M111 391.5h4M120 391.5h4M209 391.5h2M291 391.5h1M392 391.5h1M476 391.5h2M571 391.5h1M107 392.5h4M124 392.5h2M191 392.5h18M292 392.5h2M391 392.5h1M478 392.5h1M570 392.5h1M104 393.5h3M126 393.5h2M188 393.5h3M294 393.5h1M390 393.5h1M479 393.5h2M569 393.5h1M94 394.5h10M128 394.5h2M184 394.5h4M295 394.5h1M389 394.5h2M481 394.5h2M568 394.5h1M92 395.5h2M130 395.5h1M173 395.5h11M296 395.5h1M388 395.5h1M483 395.5h2M567 395.5h1M90 396.5h2M131 396.5h4M169 396.5h4M297 396.5h2M387 396.5h1M485 396.5h2M566 396.5h1M88 397.5h2M135 397.5h11M166 397.5h3M299 397.5h1M386 397.5h1M487 397.5h1M565 397.5h1M86 398.5h2M146 398.5h4M162 398.5h4M300 398.5h1M384 398.5h2M488 398.5h2M564 398.5h1M85 399.5h1M150 399.5h12M301 399.5h1M383 399.5h1M490 399.5h1M563 399.5h1M83 400.5h2M302 400.5h1M382 400.5h1M491 400.5h1M562 400.5h1M81 401.5h2M303 401.5h2M381 401.5h1M492 401.5h1M561 401.5h1M79 402.5h2M305 402.5h1M380 402.5h1M493 402.5h2M559 402.5h2M77 403.5h2M306 403.5h1M378 403.5h2M495 403.5h1M558 403.5h1M75 404.5h2M307 404.5h1M377 404.5h1M496 404.5h1M556 404.5h2M73 405.5h2M308 405.5h1M376 405.5h1M497 405.5h1M554 405.5h2M70 406.5h3M309 406.5h1M375 406.5h1M498 406.5h1M552 406.5h2M67 407.5h3M310 407.5h1M374 407.5h1M499 407.5h1M551 407.5h1M63 408.5h4M311 408.5h1M373 408.5h1M500 408.5h1M549 408.5h2M61 409.5h2M312 409.5h1M372 409.5h1M500 409.5h1M547 409.5h2M313 410.5h1M371 410.5h1M501 410.5h1M545 410.5h2M314 411.5h1M370 411.5h1M502 411.5h2M543 411.5h2M315 412.5h1M369 412.5h1M504 412.5h1M541 412.5h2M316 413.5h1M368 413.5h1M505 413.5h1M539 413.5h2M317 414.5h1M366 414.5h2M506 414.5h1M537 414.5h2M318 415.5h2M364 415.5h2M507 415.5h1M536 415.5h1M320 416.5h1M362 416.5h2M508 416.5h2M534 416.5h2M321 417.5h2M361 417.5h1M510 417.5h4M532 417.5h2M323 418.5h2M360 418.5h1M514 418.5h18M325 419.5h2M359 419.5h1M327 420.5h1M357 420.5h2M328 421.5h1M356 421.5h1M329 422.5h2M355 422.5h1M331 423.5h1M353 423.5h2M332 424.5h1M351 424.5h2M333 425.5h1M349 425.5h2M334 426.5h4M345 426.5h4M338 427.5h3M342 427.5h3M341 428.5h1" fill="none" stroke="#00008b" stroke-width="1" shape-rendering="crispEdges"/>
<text x="9.2" y="23.8" fill="#262e3d" textLength="44.2" lengthAdjust="spacingAndGlyphs" >2828.26</text>
<text x="657.2" y="23.8" fill="#262e3d" textLength="44.2" lengthAdjust="spacingAndGlyphs" >2828.26</text>
<text x="9.2" y="84.2" fill="#262e3d" textLength="44.2" lengthAdjust="spacingAndGlyphs" >2674.17</text>
<text x="657.2" y="84.2" fill="#262e3d" textLength="44.2" lengthAdjust="spacingAndGlyphs" >2674.17</text>
<text x="9.2" y="144.60000000000002" fill="#262e3d" textLength="44.2" lengthAdjust="spacingAndGlyphs" >2520.07</text>
<text x="657.2" y="144.60000000000002" fill="#262e3d" textLength="44.2" lengthAdjust="spacingAndGlyphs" >2520.07</text>
<text x="9.2" y="205.0" fill="#262e3d" textLength="44.2" lengthAdjust="spacingAndGlyphs" >2365.98</text>
<text x="657.2" y="205.0" fill="#262e3d" textLength="44.2" lengthAdjust="spacingAndGlyphs" >2365.98</text>
<text x="23.2" y="287.2" fill="#262e3d" textLength="30.3" lengthAdjust="spacingAndGlyphs" >47.21</text>
<text x="657.2" y="287.2" fill="#262e3d" textLength="30.3" lengthAdjust="spacingAndGlyphs" >47.21</text>
<text x="26.2" y="310.5" fill="#262e3d" textLength="27.3" lengthAdjust="spacingAndGlyphs" >-1.29</text>
<text x="657.2" y="309.7" fill="#262e3d" textLength="27.3" lengthAdjust="spacingAndGlyphs" >-1.29</text>
<text x="23.3" y="356.2" fill="#262e3d" textLength="30.3" lengthAdjust="spacingAndGlyphs" >83.33</text>
<text x="657.2" y="356.2" fill="#262e3d" textLength="30.3" lengthAdjust="spacingAndGlyphs" >83.33</text>
<text x="23.3" y="383.3" fill="#262e3d" textLength="30.3" lengthAdjust="spacingAndGlyphs" >63.89</text>
<text x="657.2" y="383.3" fill="#262e3d" textLength="30.3" lengthAdjust="spacingAndGlyphs" >63.89</text>
<text x="23.3" y="410.2" fill="#262e3d" textLength="30.3" lengthAdjust="spacingAndGlyphs" >44.44</text>
<text x="657.2" y="410.2" fill="#262e3d" textLength="30.3" lengthAdjust="spacingAndGlyphs" >44.44</text>
<rect x="654.5" y="83.5" width="60" height="17" fill="#fff" stroke="#ff7f00" shape-rendering="crispEdges"/>
<text x="657.2" y="96" fill="#ff7f00" textLength="44.2" lengthAdjust="spacingAndGlyphs" >2668.86</text>
<text x="59.1" y="13.3" fill="#000" textLength="48.6" lengthAdjust="spacingAndGlyphs" font-size="12.6" font-weight="500">现货黄金</text>
<text x="107.5" y="13.3" fill="#ff8a1e" textLength="48" lengthAdjust="spacingAndGlyphs" font-size="12.4">【日线】</text>
<g stroke="#ff9030" fill="#fff6f2" stroke-width="1"><circle cx="159.6" cy="10.4" r="4"/><path d="M155.6 10.5h8M159.5 6.4v8" shape-rendering="crispEdges"/></g>
<rect x="173.4" y="1.4" width="11.4" height="12.2" rx="1" fill="#b0b0b0" opacity="0.6"/>
<rect x="172.55" y="0.5" width="11.3" height="12.2" rx="1" fill="#fff" stroke="#000080" stroke-width="1.1"/>
<polyline points="173.3,7.7 176.5,3.6 179.6,6.8 181.5,4.3 183.2,4.3" fill="none" stroke="#ff1010" stroke-width="1.1"/><polyline points="173.3,10.5 176.5,6.7 179.6,9.6 181.5,7.4 183.2,7.4" fill="none" stroke="#1030ff" stroke-width="1.1"/>
<text x="187.5" y="13" fill="#000" textLength="132.5" lengthAdjust="spacingAndGlyphs" >MA(5,10,30,60,100,200)</text>
<text x="325" y="13" fill="#000" textLength="74.5" lengthAdjust="spacingAndGlyphs" >MA5:2648.69</text>
<text x="408.5" y="13" fill="#00008b" textLength="80.5" lengthAdjust="spacingAndGlyphs" >MA10:2644.94</text>
<text x="498.5" y="13" fill="#ff00ff" textLength="18.5" lengthAdjust="spacingAndGlyphs" >MA</text>
<rect x="591.5" y="0.5" width="13" height="13" fill="#fff" stroke="#1e7fd8" shape-rendering="crispEdges"/>
<rect x="607.5" y="0.5" width="13" height="13" fill="#fff" stroke="#1e7fd8" shape-rendering="crispEdges"/>
<rect x="623.5" y="0.5" width="13" height="13" fill="#fff" stroke="#1e7fd8" shape-rendering="crispEdges"/>
<rect x="639.5" y="0.5" width="13" height="13" fill="#fff" stroke="#1e7fd8" shape-rendering="crispEdges"/>
<g fill="#1e7fd8"><rect x="597.1" y="2.1" width="1.9" height="2.5"/><rect x="597.1" y="9.1" width="1.9" height="2.5"/><rect x="597.1" y="5.8" width="1.9" height="2.1"/><rect x="593.4" y="5.9" width="2.7" height="1.9"/><rect x="600.3" y="5.9" width="2.7" height="1.9"/></g>
<g stroke="#1e7fd8" stroke-width="1" fill="none"><path d="M610.3 2.5V12M609.0 10.2H619.0"/><path d="M609.1 4l1.2 -1.7l1.2 1.7M617.5 9l1.6 1.2l-1.6 1.2M610.7 9l-1.6 1.2l1.6 1.2M609.1 11l1.2 1.4l1.2 -1.4" stroke-width="0.8"/></g>
<g stroke="#1e7fd8" stroke-width="1" fill="none"><path d="M626.3 2.5V12M625.0 10.2H635.0"/><path d="M625.1 4l1.2 -1.7l1.2 1.7M633.5 9l1.6 1.2l-1.6 1.2M626.7 9l-1.6 1.2l1.6 1.2M625.1 11l1.2 1.4l1.2 -1.4" stroke-width="0.8"/></g>
<rect x="613" y="3.3" width="1.1" height="4.9" fill="#1e7fd8"/><path d="M616.9 3.2v5.1l-2.7 -2.55z" fill="#1e7fd8"/>
<path d="M628.8 2.8v6.4l5.3 -3.2z" fill="#1e7fd8"/>
<rect x="642.2" y="3" width="2.2" height="7.8" fill="none" stroke="#1e7fd8" stroke-width="1"/><path d="M644.6 5.8h3v-1.9l3.3 2.95l-3.3 2.95v-1.9h-3z" fill="#1e7fd8"/>
<text x="59.5" y="276" fill="#000" textLength="85.5" lengthAdjust="spacingAndGlyphs" >MACD(26,12,9)</text>
<text x="149.6" y="276" fill="#000" textLength="56.5" lengthAdjust="spacingAndGlyphs" >DIFF:-2.68</text>
<text x="214.5" y="276" fill="#00008b" textLength="55" lengthAdjust="spacingAndGlyphs" >DEA:-6.23</text>
<text x="278.7" y="276" fill="#ff00ff" textLength="62.6" lengthAdjust="spacingAndGlyphs" >MACD:7.10</text>
<text x="59.5" y="345" fill="#000" textLength="52.5" lengthAdjust="spacingAndGlyphs" >PSY(12,6)</text>
<text x="116.3" y="345" fill="#000" textLength="54.5" lengthAdjust="spacingAndGlyphs" >PSY:75.00</text>
<text x="179" y="345" fill="#00008b" textLength="75" lengthAdjust="spacingAndGlyphs" >PSYMA:77.78</text>
<text x="126.3" y="447" fill="#262d3a" textLength="44.8" lengthAdjust="spacingAndGlyphs" font-weight="bold">2024/09</text>
<text x="273.7" y="447" fill="#262d3a" textLength="44.8" lengthAdjust="spacingAndGlyphs" font-weight="bold">2024/10</text>
<text x="435" y="447" fill="#262d3a" textLength="44.8" lengthAdjust="spacingAndGlyphs" font-weight="bold">2024/11</text>
<text x="581.3" y="447" fill="#262d3a" textLength="44.8" lengthAdjust="spacingAndGlyphs" font-weight="bold">2024/12</text>
<text x="0.8" y="450.2" fill="#ff7400" textLength="25.4" lengthAdjust="spacingAndGlyphs" font-weight="bold" font-size="12.5">日线</text>
<path d="M31.4 448.8l4.2 -7.9l4.2 7.9z" fill="#ff7800"/>
<path d="M0 334.3l2 -2M1 337.7h2.2M0 342.2l2 2" stroke="#ff0000" stroke-width="1.3" fill="none"/>
</svg>
<div class="wm">FX678</div>
</div>
</body></html>
